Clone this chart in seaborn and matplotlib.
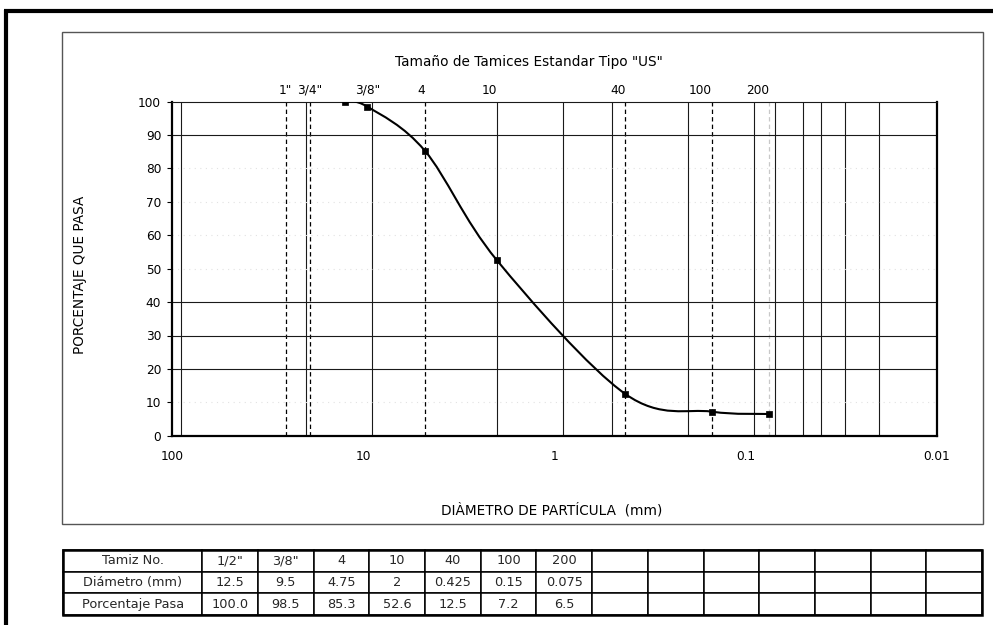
import numpy as np
import matplotlib
matplotlib.use("Agg")
import matplotlib.pyplot as plt
import seaborn as sns
from matplotlib.path import Path
from matplotlib.patches import PathPatch, Rectangle
from matplotlib.lines import Line2D
from matplotlib.ticker import NullLocator
from matplotlib.transforms import blended_transform_factory

# ---------------- data ----------------
tamiz = ['1/2"', '3/8"', '4', '10', '40', '100', '200']
diametro = [12.5, 9.5, 4.75, 2, 0.425, 0.15, 0.075]
diametro_txt = ['12.5', '9.5', '4.75', '2', '0.425', '0.15', '0.075']
pasa = [100.0, 98.5, 85.3, 52.6, 12.5, 7.2, 6.5]

sieve_labels = ['1"', '3/4"', '3/8"', '4', '10', '40', '100', '200']
sieve_mm = [25.4, 19.05, 9.5, 4.75, 2, 0.425, 0.15, 0.075]
sieve_ha = ['center', 'center', 'center', 'right', 'right', 'right', 'right', 'right']
dashed_mm = [25.4, 19.05, 4.75, 0.425, 0.15]
faint_dashed_mm = [0.075]
solid_v_mm = [90, 20, 9, 2, 0.9, 0.5, 0.2, 0.09, 0.07, 0.05, 0.04, 0.03, 0.02]
solid_h = [20, 30, 40, 90]
faint_h = [10, 50, 60, 70, 80]
x_ticks = [100, 10, 1, 0.1, 0.01]
x_tick_labels = ['100', '10', '1', '0.1', '0.01']
y_ticks = list(range(0, 101, 10))

row_headers = ['Tamiz No.', 'Diámetro (mm)', 'Porcentaje Pasa']
n_empty_cols = 7

# ---------------- figure ----------------
sns.set_theme(style="white")
plt.rcParams['font.family'] = ['DejaVu Sans']
W, H = 993, 625
fig = plt.figure(figsize=(W / 100, H / 100), dpi=100)
fig.patch.set_facecolor('white')


def fx(px):
    return px / W


def fy(py):
    return 1 - py / H


ax = fig.add_axes([fx(172), fy(435.7), fx(936.5) - fx(172), fy(101.7) - fy(435.7)])
ax.set_facecolor('white')
ax.set_xscale('log')

# grid lines
for v in solid_v_mm:
    ax.axvline(v, color='#1a1a1a', lw=0.8, zorder=1)
for v in dashed_mm:
    ax.axvline(v, color='black', lw=0.9, ls=(0, (3.5, 2.5)), zorder=1)
for v in faint_dashed_mm:
    ax.axvline(v, color='#c8c8c8', lw=0.9, ls=(0, (3.5, 2.5)), zorder=1)
for h in solid_h:
    ax.axhline(h, color='#1a1a1a', lw=0.8, zorder=1)
for h in faint_h:
    ax.axhline(h, color='#e2e2e2', lw=0.8, ls=(0, (1, 4)), zorder=1)

# smooth curve (Bezier through the data points, in log-x space)
P = np.column_stack([np.log10(diametro), np.array(pasa, dtype=float)])
n = len(P)
verts = [P[0]]
codes = [Path.MOVETO]
for i in range(n - 1):
    p_prev = P[i - 1] if i > 0 else P[i]
    p_next = P[i + 2] if i + 2 < n else P[i + 1]
    c1 = P[i] + (P[i + 1] - p_prev) / 6.0
    c2 = P[i + 1] - (p_next - P[i]) / 6.0
    verts += [c1, c2, P[i + 1]]
    codes += [Path.CURVE4] * 3
verts = np.array(verts)
verts[:, 0] = 10 ** verts[:, 0]
ax.add_patch(PathPatch(Path(verts, codes), fill=False, edgecolor='black', lw=1.5, zorder=4))

sns.scatterplot(x=diametro, y=pasa, ax=ax, marker='s', s=16, color='black',
                edgecolor='black', linewidth=0.5, zorder=5, legend=False)

ax.set_xlim(100, 0.01)
ax.set_ylim(0, 100)
ax.set_xticks(x_ticks)
ax.set_xticklabels(x_tick_labels)
ax.xaxis.set_minor_locator(NullLocator())
ax.set_yticks(y_ticks)
ax.set_yticklabels([str(t) for t in y_ticks])
ax.tick_params(axis='x', length=0, pad=10.5, labelsize=8.7, labelcolor='black', bottom=True)
ax.tick_params(axis='y', direction='out', length=3.6, width=0.8, pad=4.2,
               labelsize=8.7, labelcolor='black', color='black', left=True)

for side in ['left', 'bottom', 'right']:
    ax.spines[side].set_color('black')
    ax.spines[side].set_linewidth(1.6)
    ax.spines[side].set_visible(True)
ax.spines['top'].set_color('#1a1a1a')
ax.spines['top'].set_linewidth(0.8)
ax.spines['top'].set_visible(True)

# axis titles
ax.set_xlabel('DIÀMETRO DE PARTÍCULA  (mm)', fontsize=9.8, color='black')
ax.xaxis.label.set_va('center')
ax.xaxis.set_label_coords((551.5 - 172) / 764.5, -(510 - 435.7) / 334.0)
ax.set_ylabel('PORCENTAJE QUE PASA', fontsize=9.8, color='black')
ax.yaxis.label.set_va('center')
ax.yaxis.set_label_coords((80 - 172) / 764.5, 1 - (275 - 101.7) / 334.0)

ax.set_title('Tamaño de Tamices Estandar Tipo "US"', fontsize=9.8, color='black',
             x=(528.5 - 172) / 764.5, y=1 + (101.7 - 62) / 334.0, pad=0, va='center')

# sieve labels on top
trans = blended_transform_factory(ax.transData, ax.transAxes)
for lab, v, ha in zip(sieve_labels, sieve_mm, sieve_ha):
    ax.text(v, 1 + (101.7 - 90) / 334.0, lab, transform=trans, ha=ha, va='center',
            fontsize=8.7, color='black', clip_on=False)

# ---------------- table ----------------
axt = fig.add_axes([fx(63), fy(615), fx(982) - fx(63), fy(550) - fy(615)])
axt.axis('off')
cell_text = [
    [row_headers[0]] + tamiz + [''] * n_empty_cols,
    [row_headers[1]] + diametro_txt + [''] * n_empty_cols,
    [row_headers[2]] + [f'{p:.1f}' for p in pasa] + [''] * n_empty_cols,
]
ncols = len(cell_text[0])
widths = np.array([2.5] + [1.0] * (ncols - 1))
widths = widths / widths.sum()
tbl = axt.table(cellText=cell_text, colWidths=list(widths), cellLoc='center',
                bbox=[0, 0, 1, 1])
tbl.auto_set_font_size(False)
tbl.set_fontsize(9.3)
for (r, c), cell in tbl.get_celld().items():
    cell.set_edgecolor('black')
    cell.set_linewidth(1.1)
    cell.set_facecolor('white')
axt.add_patch(Rectangle((0, 0), 1, 1, transform=axt.transAxes, fill=False,
                        edgecolor='black', lw=1.8, clip_on=False, zorder=10))

# ---------------- frames ----------------
fig.add_artist(Rectangle((fx(61.5), fy(524)), fx(983) - fx(61.5), fy(32) - fy(524),
                         transform=fig.transFigure, fill=False, edgecolor='#555555', lw=1.0))
fig.add_artist(Line2D([fx(4), 1], [fy(11), fy(11)], transform=fig.transFigure,
                      color='black', lw=3.0, solid_capstyle='butt'))
fig.add_artist(Line2D([fx(6), fx(6)], [fy(9.5), 0], transform=fig.transFigure,
                      color='black', lw=3.0, solid_capstyle='butt'))

fig.savefig('out.png', dpi=100, facecolor='white')
